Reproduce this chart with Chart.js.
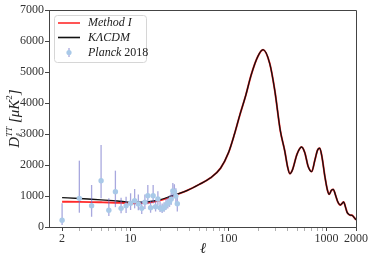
<!DOCTYPE html>
<html>
<head>
<meta charset="utf-8">
<script src="https://cdn.jsdelivr.net/npm/chart.js@4.4.0/dist/chart.umd.min.js"></script>
<style>
html, body { margin: 0; padding: 0; background: #fff; }
#wrap { width: 374px; height: 262px; }
</style>
</head>
<body>
<div id="wrap"><canvas id="cmbChart" width="374" height="262"></canvas></div>
<script>
// theory curves
const ellTheory = [2,3,4,5,6,7,8,10,13,16,20,25,30,38,50,65,83,100,115,130,150,170,199,225,263,296,338,375,400,422,450,500,556,600,650,706,760,810,853,900,960,1020,1066,1120,1172,1230,1300,1383,1440,1497,1560,1620,1686,1750,1824,1900,1980,2000];
const dlKLCDM = [945,920,895,875,858,843,830,800,800,830,880,980,1060,1180,1370,1580,1900,2400,3000,3600,4250,4900,5500,5720,5280,4420,3100,2450,1950,1720,1850,2350,2580,2400,1950,1785,2150,2480,2540,2250,1650,1200,1054,1180,1215,1050,820,710,760,806,650,480,409,380,377,320,250,230];
const dlMethod1 = [816,810,803,796,790,784,778,765,770,800,860,960,1055,1180,1370,1580,1900,2400,3000,3600,4250,4900,5500,5720,5280,4420,3100,2450,1950,1720,1850,2350,2580,2400,1950,1785,2150,2480,2540,2250,1650,1200,1054,1180,1215,1050,820,710,760,806,650,480,409,380,377,320,250,230];

// Planck 2018 low-ell points with lower / upper ends of the error bars
const ellPlanck = [2,3,4,5,6,7,8,9,10,11,12,13,14,15,16,17,18,19,20,21,22,23,24,25,26,27,28,29,30];
const dlPlanck = [216,925,688,1494,538,1140,602,688,764,849,742,602,796,1010,624,1010,656,903,624,581,624,710,758,817,900,1161,1140,1000,752];
const dlLow = [65,461,330,925,355,640,441,450,548,602,540,419,580,732,460,760,500,700,480,450,490,560,600,650,720,950,930,800,500];
const dlHigh = [764,2140,1355,2645,925,1817,946,978,1087,1226,1050,839,1050,1355,850,1355,880,1150,820,760,800,900,950,1020,1100,1420,1380,1250,1000];

const xLabelled = [2, 10, 100, 1000, 2000];
const xMinor = [3,4,5,6,7,8,9,20,30,40,50,60,70,80,90,200,300,400,500,600,700,800,900];
const yMax = 7000;
const yStep = 1000;

const serif = '"Liberation Serif", "DejaVu Serif", serif';
const axisColor = '#444';

const pts = (xs, ys) => xs.map((x, i) => ({ x: x, y: ys[i] }));

// error bars for the Planck points, drawn through the chart scales
const errorBars = {
  id: 'errorBars',
  beforeDatasetDraw(chart, args) {
    if (args.index !== 2) return;
    const c = chart.ctx, xs = chart.scales.x, ys = chart.scales.y;
    c.save();
    c.strokeStyle = 'rgba(110,110,200,0.6)';
    c.lineWidth = 1.3;
    ellPlanck.forEach((l, i) => {
      const px = xs.getPixelForValue(l);
      c.beginPath();
      c.moveTo(px, ys.getPixelForValue(dlLow[i]));
      c.lineTo(px, ys.getPixelForValue(dlHigh[i]));
      c.stroke();
    });
    c.restore();
  }
};

const decorations = {
  id: 'decorations',
  afterDraw(chart) {
    const c = chart.ctx, a = chart.chartArea;
    c.save();
    // top and right spines
    c.strokeStyle = axisColor;
    c.lineWidth = 1;
    c.beginPath();
    c.moveTo(a.left, a.top + 0.5);
    c.lineTo(a.right + 0.5, a.top + 0.5);
    c.lineTo(a.right + 0.5, a.bottom);
    c.stroke();

    // legend
    const bx = 54.5, by = 15.5, bw = 92, bh = 47;
    c.fillStyle = 'rgba(255,255,255,0.85)';
    c.strokeStyle = '#d6d6d6';
    c.beginPath();
    c.roundRect(bx, by, bw, bh, 3);
    c.fill();
    c.stroke();

    c.lineWidth = 1.6;
    c.strokeStyle = '#ff2a2a';
    c.beginPath(); c.moveTo(58, 23); c.lineTo(80, 23); c.stroke();
    c.strokeStyle = '#111';
    c.beginPath(); c.moveTo(58, 37.5); c.lineTo(80, 37.5); c.stroke();
    c.strokeStyle = 'rgba(110,110,200,0.6)';
    c.lineWidth = 1.3;
    c.beginPath(); c.moveTo(69, 48); c.lineTo(69, 57); c.stroke();
    c.fillStyle = '#a9c9e8';
    c.beginPath(); c.arc(69, 52.5, 2.6, 0, Math.PI * 2); c.fill();

    c.fillStyle = '#222';
    c.textBaseline = 'middle';
    c.textAlign = 'left';
    c.font = 'italic 12px ' + serif;
    c.fillText('Method I', 88, 23);
    c.fillText('KΛCDM', 88, 37.5);
    c.fillText('Planck', 88, 52.5);
    const pw = c.measureText('Planck ').width;
    c.font = '12px ' + serif;
    c.fillText('2018', 88 + pw, 52.5);

    // x title
    c.font = 'italic 15px ' + serif;
    c.textAlign = 'center';
    c.fillText('ℓ', 203, 249);

    // y title with sub/superscripts
    c.translate(15, (a.top + a.bottom) / 2);
    c.rotate(-Math.PI / 2);
    const big = 'italic 15px ' + serif, small = 'italic 9px ' + serif, smallUp = '9px ' + serif;
    const parts = [
      { t: 'D', f: big, dy: 0 },
      { t: 'TT', f: small, dy: -5, stackSub: 'ℓ' },
      { t: ' [μK', f: big, dy: 0 },
      { t: '2', f: smallUp, dy: -5 },
      { t: ']', f: big, dy: 0 }
    ];
    let total = 0;
    parts.forEach(p => { c.font = p.f; p.w = c.measureText(p.t).width; total += p.w; });
    let x = -total / 2;
    c.textAlign = 'left';
    c.textBaseline = 'middle';
    parts.forEach(p => {
      c.font = p.f;
      c.fillText(p.t, x, p.dy);
      if (p.stackSub) c.fillText(p.stackSub, x, 5);
      x += p.w;
    });
    c.restore();
  }
};

const ctx = document.getElementById('cmbChart').getContext('2d');
const config = {
  type: 'line',
  data: {
    datasets: [
      {
        label: 'Method I',
        data: pts(ellTheory, dlMethod1),
        borderColor: '#ff2a2a',
        borderWidth: 1.9,
        pointRadius: 0,
        cubicInterpolationMode: 'monotone',
        order: 2
      },
      {
        label: 'KΛCDM',
        data: pts(ellTheory, dlKLCDM),
        borderColor: '#111',
        borderWidth: 1.3,
        pointRadius: 0,
        cubicInterpolationMode: 'monotone',
        order: 1
      },
      {
        type: 'scatter',
        label: 'Planck 2018',
        data: pts(ellPlanck, dlPlanck),
        pointRadius: 2.7,
        pointBackgroundColor: '#a9c9e8',
        pointBorderWidth: 0,
        showLine: false,
        order: 0
      }
    ]
  },
  options: {
    responsive: false,
    animation: false,
    layout: { padding: { top: 10, right: 18, left: 0, bottom: 0 } },
    plugins: { legend: { display: false }, tooltip: { enabled: false } },
    scales: {
      x: {
        type: 'logarithmic',
        min: 1.47,
        max: 2000,
        afterBuildTicks(s) {
          s.ticks = xLabelled.concat(xMinor).sort((p, q) => p - q).map(v => ({ value: v }));
        },
        ticks: {
          autoSkip: false,
          maxRotation: 0,
          padding: 1,
          color: '#333',
          font: { family: serif, size: 12 },
          callback: v => xLabelled.includes(v) ? String(v) : ''
        },
        grid: {
          drawOnChartArea: false,
          tickLength: 4,
          tickColor: c => (c.tick && xLabelled.includes(c.tick.value)) ? axisColor : '#b0b0b0'
        },
        border: { color: axisColor, width: 1 },
        afterFit(s) { s.height = 35; }
      },
      y: {
        min: 0,
        max: yMax,
        ticks: {
          stepSize: yStep,
          padding: 1,
          color: '#333',
          font: { family: serif, size: 12 },
          callback: v => String(v)
        },
        grid: { drawOnChartArea: false, tickLength: 4, tickColor: axisColor },
        border: { color: axisColor, width: 1 },
        afterFit(s) { s.width = 49; }
      }
    }
  },
  plugins: [errorBars, decorations]
};

const cmbChart = new Chart(ctx, config);
</script>
</body>
</html>
